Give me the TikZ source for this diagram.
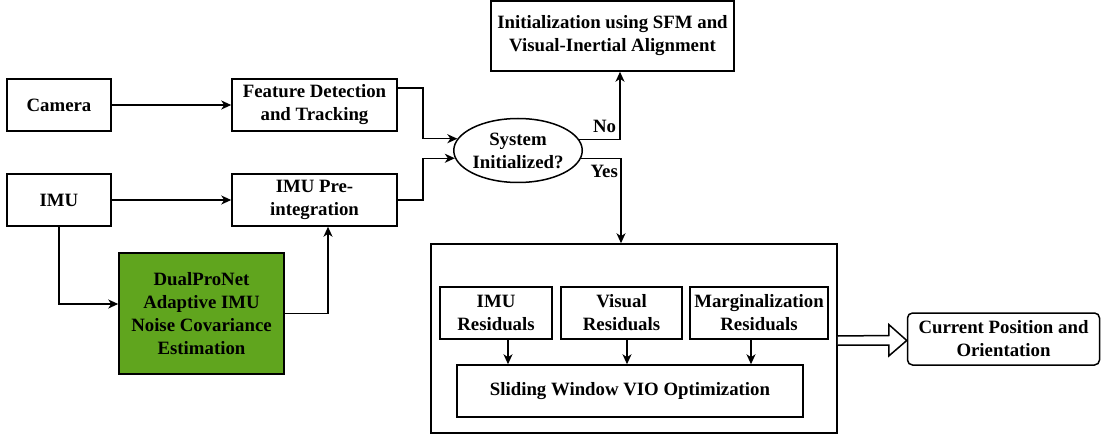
\documentclass[tikz,border=0pt]{standalone}
\usepackage{fontspec}
\setmainfont{Liberation Serif}
\usetikzlibrary{shapes.geometric, calc, arrows.meta}
\definecolor{netgreen}{RGB}{96,165,30}

\begin{document}
\begin{tikzpicture}[x=0.5pt, y=-0.5pt, line width=0.75pt, >={Stealth[length=5pt, width=4.5pt, inset=1.5pt]},
		every node/.style={font=\fontsize{9.4}{11.5}\selectfont\bfseries, align=center},
		blk/.style={draw, rectangle, inner sep=1pt, minimum height=26pt}]
				\useasboundingbox (0,0) rectangle (1101,443);
				\node[blk, minimum width=52pt] (CAM)at(59, 105) {Camera};
				\node[blk, minimum width=82.5pt] (FD)at(314.5, 105) {Feature Detection\\and Tracking};
				\node[blk, minimum width=52pt] (IMU)at(59, 200) {IMU};
				\node[blk, minimum width=82.5pt] (PI)at(314.5, 200) {IMU Pre-\\integration};
				\node[blk, fill=netgreen, minimum width=82.5pt, minimum height=60.5pt] (DPN)at(201.5, 313.5) {DualProNet\\Adaptive IMU\\Noise Covariance\\Estimation};
				\node[draw, ellipse, inner sep=0pt, minimum width=60pt, minimum height=32pt] (SI)at(518, 150.5) {System\\Initialized?};
				\node[blk, minimum width=121.5pt, minimum height=35pt] (INIT)at(612.5, 36) {Initialization using SFM and\\Visual-Inertial Alignment};
				\node[blk, minimum width=203pt, minimum height=94.5pt] (VIO)at(634, 338.5) {};
				\node[blk, minimum width=56pt] (IR)at(496, 313) {IMU\\Residuals};
				\node[blk, minimum width=60.5pt] (VR)at(621.5, 313) {Visual\\Residuals};
				\node[blk, minimum width=69pt] (MR)at(759, 313) {Marginalization\\Residuals};
				\node[blk, minimum width=173pt] (SW)at(630, 391) {Sliding Window VIO Optimization};
				\node[blk, rounded corners=2.5pt, minimum width=96pt] (POS)at(1003.5, 339) {Current Position and\\Orientation};
				\draw[->] (CAM) -- (FD);
				\draw[->] (IMU) -- (PI);
				\draw[->] ([yshift=8.5pt]FD.east) -- ++(12.5pt, 0) |- (SI.169.7);
				\draw[->] (PI.east) -- ++(12.5pt, 0) |- (SI.187.2);
				\draw[->] (SI.10.3) -| node[pos=0.31, above] {No} ([xshift=3.75pt]INIT.south);
				\draw[->] (SI.-7.2) -| node[pos=0.29, below] {Yes} ([xshift=-6.5pt]VIO.north);
				\draw[->] (IMU.south) |- ([yshift=4.75pt]DPN.west);
				\draw[->] (DPN.east) -| ([xshift=6.75pt]PI.south);
				\draw[->] ([xshift=6pt]IR.south) -- ([xshift=6pt]IR.south |- SW.north);
				\draw[->] ([xshift=2.75pt]VR.south) -- ([xshift=2.75pt]VR.south |- SW.north);
				\draw[->] ([xshift=-4pt]MR.south) -- ([xshift=-4pt]MR.south |- SW.north);
				\draw[fill=white] ([yshift=1.25pt]VIO.east) -- ($(POS.west)+(-9pt, 1.75pt)$) -- ++(0, 5.5pt) -- ([yshift=-0.75pt]POS.west) -- ++(-9pt, -7.75pt) -- ++(0, 5.5pt) -- ([yshift=-3.25pt]VIO.east);
			\end{tikzpicture}
\end{document}
